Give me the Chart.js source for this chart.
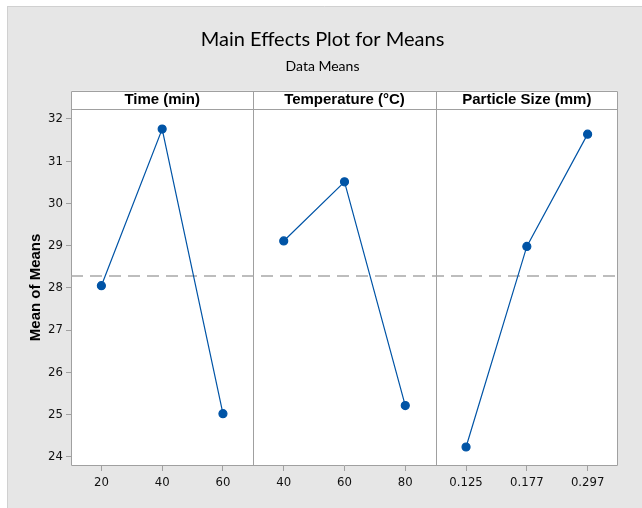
<!DOCTYPE html>
<html>
<head>
<meta charset="utf-8">
<script src="https://cdn.jsdelivr.net/npm/chart.js@4/dist/chart.umd.min.js"></script>
<style>
  html, body { margin: 0; padding: 0; background: #ffffff; }
  #wrap { position: relative; width: 642px; height: 508px; }
  canvas { display: block; }
</style>
</head>
<body>
<div id="wrap"><canvas id="c" width="642" height="508"></canvas></div>
<script>
// ---- data ----
const factorNames = ["Time (min)", "Temperature (\u00B0C)", "Particle Size (mm)"];
const timeLevels = ["20", "40", "60"];
const tempLevels = ["40", "60", "80"];
const sizeLevels = ["0.125", "0.177", "0.297"];
const timeMeans = [28.05, 31.76, 25.02];
const tempMeans = [29.11, 30.51, 25.21];
const sizeMeans = [24.23, 28.98, 31.64];
const grandMean = 28.28;
const yTicks = [24, 25, 26, 27, 28, 29, 30, 31, 32];
const yMin = 23.78, yMax = 32.24;

// ---- build library structures ----
const allLevels = [...timeLevels, ...tempLevels, ...sizeLevels];
const gap = n => Array(n).fill(null);
const nT = timeLevels.length, nP = tempLevels.length, nS = sizeLevels.length;
const blue = '#0054a6';
const frameColor = '#a0a0a0';

function series(label, vals, before, after) {
  return {
    label, data: [...gap(before), ...vals, ...gap(after)],
    xAxisID: 'x', yAxisID: 'y',
    borderColor: blue, backgroundColor: blue, borderWidth: 1.2,
    pointRadius: 4, pointHoverRadius: 4, pointBackgroundColor: blue, pointBorderColor: blue,
    spanGaps: false, tension: 0, order: 1
  };
}

const bgPlugin = {
  id: 'bg',
  beforeDraw(chart) {
    const ctx = chart.ctx;
    ctx.save();
    ctx.fillStyle = '#ffffff';
    ctx.fillRect(0, 0, chart.width, chart.height);
    ctx.fillStyle = '#e6e6e6';
    ctx.fillRect(7, 6, chart.width - 7, chart.height - 6);
    ctx.strokeStyle = '#d0d0d0';
    ctx.lineWidth = 1;
    ctx.beginPath();
    ctx.moveTo(7, 6.5); ctx.lineTo(chart.width, 6.5);
    ctx.moveTo(7.5, 6); ctx.lineTo(7.5, chart.height);
    ctx.stroke();
    const a = chart.chartArea;
    const hTop = chart.scales.xh.top;
    ctx.fillStyle = '#ffffff';
    ctx.fillRect(a.left, hTop, a.right - a.left, a.bottom - hTop);
    ctx.restore();
  },
  beforeDatasetsDraw(chart) {
    const ctx = chart.ctx;
    const a = chart.chartArea;
    const hTop = chart.scales.xh.top;
    const xs = chart.scales.x;
    ctx.save();
    ctx.strokeStyle = frameColor;
    ctx.lineWidth = 1;
    const L = Math.round(a.left) + 0.5, R = Math.round(a.right) - 0.5;
    const T = Math.round(hTop) + 0.5, B = Math.round(a.bottom) - 0.5;
    const H = Math.round(a.top) + 0.5;
    ctx.beginPath();
    ctx.rect(L, T, R - L, B - T);
    ctx.moveTo(L, H); ctx.lineTo(R, H);
    [nT - 0.5, nT + nP - 0.5].forEach(v => {
      const px = Math.round(xs.getPixelForValue(v)) + 0.5;
      ctx.moveTo(px, T); ctx.lineTo(px, B);
    });
    ctx.stroke();
    ctx.restore();
  }
};

const tickFont = { family: "'Liberation Sans Narrow', 'DejaVu Sans Condensed', 'Liberation Sans', sans-serif", size: 13 };

new Chart(document.getElementById('c'), {
  type: 'line',
  data: {
    labels: allLevels,
    datasets: [
      series(factorNames[0], timeMeans, 0, nP + nS),
      series(factorNames[1], tempMeans, nT, nS),
      series(factorNames[2], sizeMeans, nT + nP, 0),
      {
        label: 'Mean', data: [{ x: 0, y: grandMean }, { x: 1, y: grandMean }],
        xAxisID: 'xm', yAxisID: 'y',
        borderColor: '#a8a8a8', borderWidth: 1.5, borderDash: [12, 7],
        pointRadius: 0, pointHoverRadius: 0, order: 2
      }
    ]
  },
  options: {
    responsive: false,
    animation: false,
    events: [],
    layout: { padding: { left: 27, right: 24, top: 0, bottom: 0 } },
    plugins: {
      legend: { display: false },
      tooltip: { enabled: false },
      title: {
        display: true, text: 'Main Effects Plot for Means', color: '#000',
        font: { family: "Lato, 'Liberation Sans', sans-serif", size: 20, weight: 'normal' },
        padding: { top: 28, bottom: 3 }
      },
      subtitle: {
        display: true, text: 'Data Means', color: '#000',
        font: { family: "Lato, 'Liberation Sans', sans-serif", size: 14, weight: 'normal' },
        padding: { top: 3, bottom: 16 }
      }
    },
    scales: {
      x: {
        type: 'category', position: 'bottom', offset: true,
        grid: { display: true, offset: false, drawOnChartArea: false, drawTicks: true, tickLength: 5, color: frameColor },
        border: { display: false },
        ticks: { color: '#111', font: tickFont, padding: 4, maxRotation: 0, autoSkip: false },
        afterFit(s) { s.height = 42; }
      },
      xh: {
        type: 'category', position: 'top', offset: true, labels: factorNames,
        grid: { display: false, drawTicks: false },
        border: { display: false },
        ticks: { color: '#000', font: { family: "'Liberation Sans', Arial, sans-serif", size: 15, weight: 'bold' }, padding: 0, maxRotation: 0, autoSkip: false },
        afterFit(s) { s.height = 18; }
      },
      xm: { type: 'linear', display: false, min: 0, max: 1 },
      y: {
        type: 'linear', min: yMin, max: yMax,
        afterBuildTicks(s) { s.ticks = yTicks.map(v => ({ value: v })); },
        grid: { display: true, drawOnChartArea: false, drawTicks: true, tickLength: 5, color: frameColor },
        border: { display: false },
        ticks: { color: '#111', font: tickFont, padding: 3 },
        title: {
          display: true, text: 'Mean of Means', color: '#000',
          font: { family: "'Liberation Sans', Arial, sans-serif", size: 15, weight: 'bold' },
          padding: { top: 0, bottom: 0 }
        },
        afterFit(s) { s.width = 44; }
      }
    }
  },
  plugins: [bgPlugin]
});
</script>
</body>
</html>
